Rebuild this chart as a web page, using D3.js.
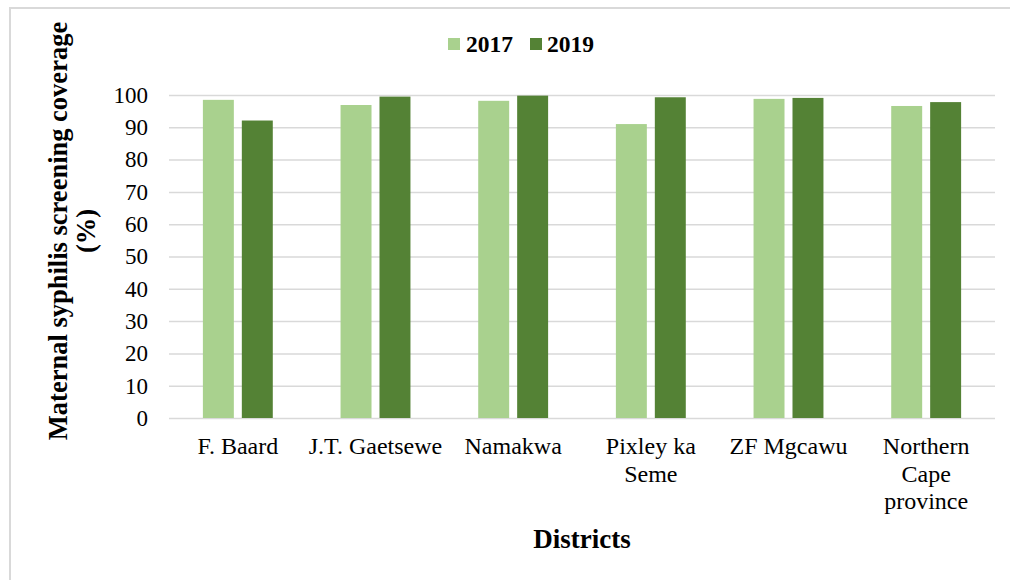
<!DOCTYPE html>
<html><head><meta charset="utf-8">
<script src="https://cdn.jsdelivr.net/npm/d3@7"></script>
<style>body{margin:0;background:#fff;} svg{display:block;} svg text{font-family:'Times New Roman','Liberation Serif','DejaVu Serif',serif !important;}</style>
</head><body>
<script>
const categories = [["F. Baard"],["J.T. Gaetsewe"],["Namakwa"],["Pixley ka","Seme"],["ZF Mgcawu"],["Northern","Cape","province"]];
const seriesNames = ["2017","2019"];
const values2017 = [98.5, 96.9, 98.2, 91.0, 98.8, 96.6];
const values2019 = [92.1, 99.5, 99.8, 99.3, 99.1, 97.8];
const yTicks = [0,10,20,30,40,50,60,70,80,90,100];
const colors = ["#a9d18e","#548235"];

(function(){
const W=1010,H=580;
const svg=d3.select("body").append("svg").attr("width",W).attr("height",H);
svg.append("rect").attr("x",10).attr("y",8).attr("width",1010).attr("height",600)
  .attr("fill","none").attr("stroke","#d9d9d9").attr("stroke-width",2);

const pL=169,pR=995,pT=95,pB=418;
const y=d3.scaleLinear().domain([0,100]).range([pB,pT]);
const x=d3.scaleBand().domain(d3.range(categories.length)).range([pL,pR]).paddingInner(0).paddingOuter(0);
const x1=d3.scaleBand().domain([0,1]).range([0,x.bandwidth()]).paddingInner(0.205).paddingOuter(0.87);

const gy=svg.append("g").attr("transform",`translate(${pL},0)`)
  .call(d3.axisLeft(y).tickValues(yTicks).tickSize(-(pR-pL)).tickPadding(21));
gy.select(".domain").remove();
gy.selectAll(".tick line").attr("stroke","#d9d9d9").attr("stroke-width",1.5);
gy.selectAll(".tick text").attr("font-size",23).attr("fill","#000");

const data=[values2017,values2019];
const g=svg.append("g");
categories.forEach((c,i)=>{
  data.forEach((vals,s)=>{
    g.append("rect").attr("x",x(i)+x1(s)).attr("width",x1.bandwidth())
     .attr("y",y(vals[i])).attr("height",y(0)-y(vals[i])).attr("fill",colors[s]);
  });
  const t=svg.append("text").attr("text-anchor","middle").attr("font-size",24).attr("fill","#000");
  c.forEach((line,k)=>{
    t.append("tspan").attr("x",x(i)+x.bandwidth()/2).attr("y",454+k*27.5).text(line);
  });
});

const leg=[{x:448,tx:466},{x:530,tx:547}];
seriesNames.forEach((n,s)=>{
  svg.append("rect").attr("x",leg[s].x).attr("y",38).attr("width",12).attr("height",12).attr("fill",colors[s]);
  svg.append("text").attr("x",leg[s].tx).attr("y",52).attr("font-size",23.5).attr("font-weight","bold").text(n);
});

const yt=svg.append("text").attr("transform","translate(67,231) rotate(-90)").attr("text-anchor","middle")
  .attr("font-size",26.5).attr("font-weight","bold");
yt.append("tspan").attr("x",0).attr("y",0).text("Maternal syphilis screening coverage");
yt.append("tspan").attr("x",0).attr("y",28).text("(%)");
svg.append("text").attr("x",582).attr("y",548).attr("text-anchor","middle").attr("font-size",27)
  .attr("font-weight","bold").text("Districts");
})();
</script>
</body></html>
